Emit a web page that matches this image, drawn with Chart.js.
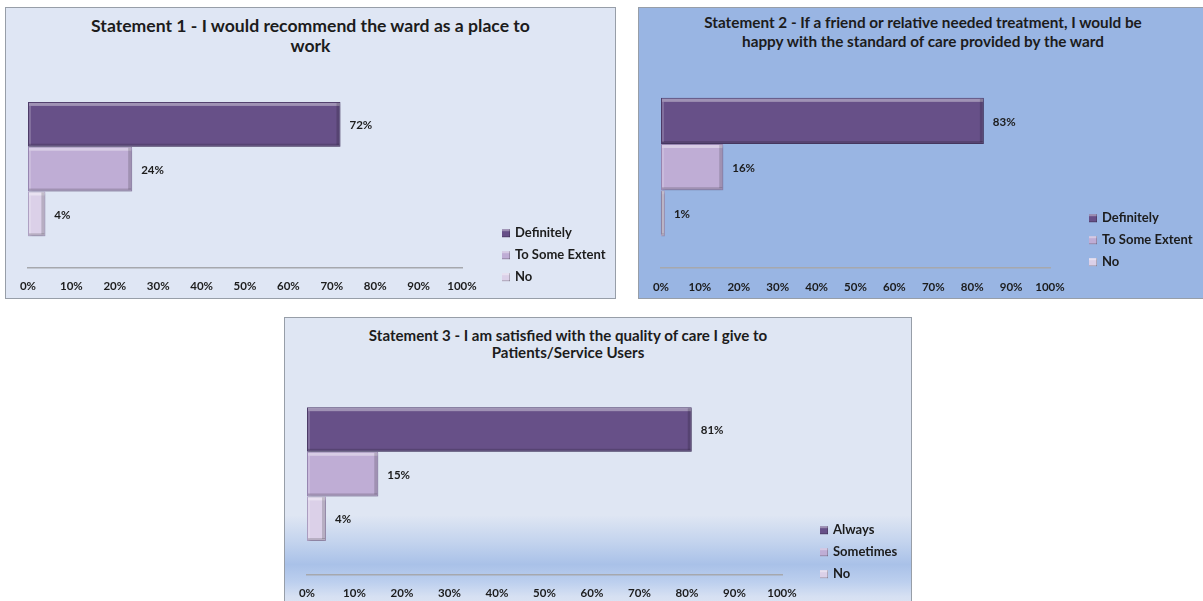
<!DOCTYPE html>
<html>
<head>
<meta charset="utf-8">
<script src="https://cdn.jsdelivr.net/npm/chart.js@4.4.1/dist/chart.umd.min.js"></script>
<style>
  html, body { margin: 0; padding: 0; background: #fff; }
  body { width: 1203px; height: 601px; position: relative; overflow: hidden; font-family: Lato, "Open Sans", sans-serif; }
  .panel { position: absolute; border: 1px solid #979ea8; box-sizing: border-box; overflow: hidden; }
  .panel canvas { position: absolute; left: 0; top: 0; }
  .ttl { position: absolute; text-align: center; font-weight: bold; color: #1c1c1c; white-space: nowrap; }
  #p1 { left: 5px; top: 7px; width: 611px; height: 292px; background: #dfe6f4; }
  #p2 { left: 638px; top: 7px; width: 570px; height: 292px; background: #99b5e3; }
  #p3 { left: 284px; top: 317px; width: 628px; height: 292px;
        background: linear-gradient(to bottom, #dfe6f3 0%, #dfe6f3 68%, #c4d4ee 77%, #a9c1e8 85%, #bccfee 91%, #d6e0f2 96%, #dde5f3 100%); }
  #t1 { left: 0; width: 609px; top: 8px; font-size: 17.6px; line-height: 20px; }
  #t2 { left: 0; width: 568px; top: 5px; font-size: 15.3px; line-height: 19px; }
  #t3 { left: 0; width: 566px; top: 9px; font-size: 15.1px; line-height: 17px; }
</style>
</head>
<body>
<div class="panel" id="p1">
  <div class="ttl" id="t1">Statement 1 - I would recommend the ward as a place to<br>work</div>
  <canvas id="c1" width="609" height="290"></canvas>
</div>
<div class="panel" id="p2">
  <div class="ttl" id="t2">Statement 2 - If a friend or relative needed treatment, I would be<br>happy with the standard of care provided by the ward</div>
  <canvas id="c2" width="568" height="290"></canvas>
</div>
<div class="panel" id="p3">
  <div class="ttl" id="t3">Statement 3 - I am satisfied with the quality of care I give to<br>Patients/Service Users</div>
  <canvas id="c3" width="626" height="290"></canvas>
</div>

<script>
/* ── data ── */
const CATEGORY = [""];

const S1_LABELS = ["Definitely", "To Some Extent", "No"];
const S1_VALUES = [72, 24, 4];

const S2_LABELS = ["Definitely", "To Some Extent", "No"];
const S2_VALUES = [83, 16, 1];

const S3_LABELS = ["Always", "Sometimes", "No"];
const S3_VALUES = [81, 15, 4];

const X_MIN = 0, X_MAX = 100, X_STEP = 10;

/* ── palette ── */
const FILLS   = ["#675088", "#bfadd5", "#dbd0e8"];
const BORDERS = ["#4e3c6a", "#9a88b4", "#b3a5c8"];

const FONT = "Lato, 'Open Sans', sans-serif";
Chart.defaults.font.family = FONT;
Chart.defaults.color = "#1c1c1c";

/* ── plugins ── */
// soft drop shadow under bars
const barShadow = {
  id: "barShadow",
  beforeDatasetDraw(chart) {
    const ctx = chart.ctx;
    ctx.save();
    ctx.shadowColor = "rgba(40,40,60,0.35)";
    ctx.shadowBlur = 3;
    ctx.shadowOffsetX = 1;
    ctx.shadowOffsetY = 2;
  },
  afterDatasetDraw(chart) {
    chart.ctx.restore();
  },
};

// bevel edges, like the office 3D bars
const bevel = {
  id: "bevel",
  afterDatasetDraw(chart, args) {
    const ctx = chart.ctx;
    args.meta.data.forEach(bar => {
      const { x, y, base, height } = bar.getProps(["x", "y", "base", "height"], true);
      const l = Math.min(x, base), r = Math.max(x, base);
      const t = y - height / 2, b = y + height / 2;
      const w = r - l;
      ctx.save();
      ctx.fillStyle = "rgba(255,255,255,0.38)";
      ctx.fillRect(l + 1, t + 1, w - 2, 3);
      ctx.fillStyle = "rgba(255,255,255,0.18)";
      ctx.fillRect(l + 1, t + 4, 2, b - t - 6);
      ctx.fillStyle = "rgba(0,0,0,0.16)";
      ctx.fillRect(l + 1, b - 3, w - 2, 2);
      ctx.fillRect(r - 4, t + 1, 3, b - t - 3);
      ctx.restore();
    });
  },
};

// value labels right of each bar
const valueLabels = {
  id: "valueLabels",
  afterDatasetsDraw(chart) {
    const ctx = chart.ctx;
    ctx.save();
    ctx.font = `bold 11.5px ${FONT}`;
    ctx.fillStyle = "#1c1c1c";
    ctx.textAlign = "left";
    ctx.textBaseline = "middle";
    chart.data.datasets.forEach((ds, i) => {
      chart.getDatasetMeta(i).data.forEach((bar, j) => {
        ctx.fillText(ds.data[j] + "%", bar.x + 9, bar.y + 1);
      });
    });
    ctx.restore();
  },
};

// legend sitting low on the right, next to the plot
const sideLegend = {
  id: "sideLegend",
  afterDraw(chart, args, opts) {
    const ctx = chart.ctx;
    const area = chart.chartArea;
    ctx.save();
    ctx.font = `bold 13px ${FONT}`;
    ctx.textBaseline = "middle";
    chart.data.datasets.forEach((ds, i) => {
      const bx = area.right + opts.dx;
      const by = area.bottom + opts.dy + i * opts.gap;
      ctx.fillStyle = ds.backgroundColor;
      ctx.fillRect(bx, by - 4, 8, 8);
      ctx.fillStyle = "rgba(255,255,255,0.35)";
      ctx.fillRect(bx, by - 4, 8, 2);
      ctx.fillStyle = "rgba(0,0,0,0.2)";
      ctx.fillRect(bx, by + 3, 8, 1);
      ctx.fillRect(bx + 7, by - 4, 1, 8);
      ctx.fillStyle = "#1c1c1c";
      ctx.fillText(ds.label, bx + 13, by);
    });
    ctx.restore();
  },
};

/* ── builder ── */
function makeChart(id, labels, values, opt) {
  const datasets = labels.map((lbl, i) => ({
    label: lbl,
    data: [values[i]],
    backgroundColor: FILLS[i],
    borderColor: BORDERS[i],
    borderWidth: 1,
    borderSkipped: false,
    categoryPercentage: opt.cat,
    barPercentage: 1,
  }));

  return new Chart(document.getElementById(id), {
    type: "bar",
    data: { labels: CATEGORY, datasets },
    plugins: [barShadow, bevel, valueLabels, sideLegend],
    options: {
      responsive: false,
      animation: false,
      indexAxis: "y",
      layout: { padding: opt.pad },
      plugins: {
        legend: { display: false },
        title: { display: false },
        tooltip: { enabled: false },
        sideLegend: opt.legend,
      },
      scales: {
        x: {
          min: X_MIN,
          max: X_MAX,
          grid: { display: false, drawTicks: false },
          border: { display: true, color: "#a6a8ad", width: 1.5 },
          ticks: {
            stepSize: X_STEP,
            padding: opt.tickPad,
            color: "#1c1c1c",
            font: { size: 11.5, weight: "bold" },
            callback: v => v + "%",
          },
        },
        y: { display: false },
      },
    },
  });
}

makeChart("c1", S1_LABELS, S1_VALUES, {
  cat: 0.678,
  pad: { top: 62, left: 22, right: 153, bottom: -6 },
  tickPad: 11,
  legend: { dx: 40, dy: -35, gap: 22 },
});

makeChart("c2", S2_LABELS, S2_VALUES, {
  cat: 0.685,
  pad: { top: 58, left: 22, right: 157, bottom: -8 },
  tickPad: 12,
  legend: { dx: 39, dy: -50, gap: 22 },
});

makeChart("c3", S3_LABELS, S3_VALUES, {
  cat: 0.662,
  pad: { top: 55, left: 22, right: 129, bottom: -3 },
  tickPad: 11,
  legend: { dx: 38, dy: -45, gap: 22 },
});
</script>
</body>
</html>
